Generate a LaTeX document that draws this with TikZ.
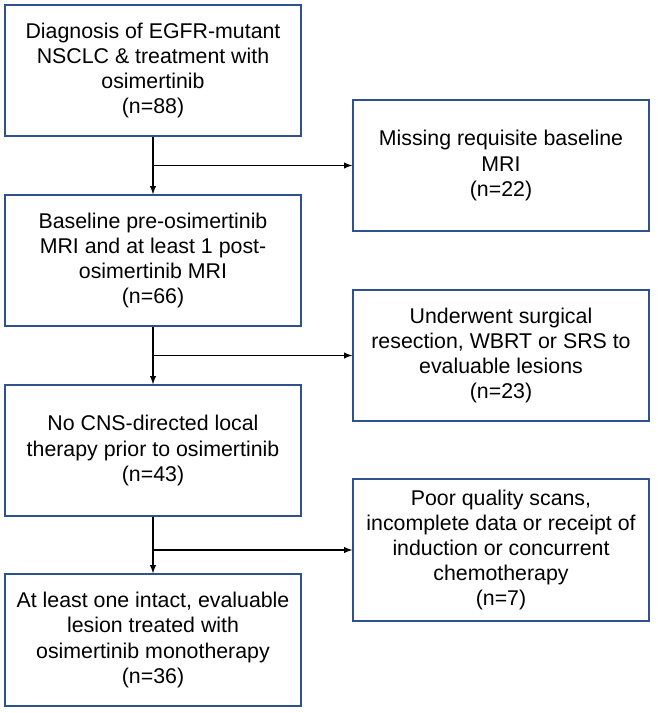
\documentclass[tikz,border=0pt]{standalone}
\usepackage{fontspec}
\setmainfont{Liberation Sans}
\usepackage{tikz}
\usetikzlibrary{shapes.geometric, arrows}
\definecolor{boxblue}{HTML}{2F528F}
\tikzstyle{box} = [draw=boxblue, line width=1.1pt, fill=white, align=center, minimum width=222pt, inner sep=2pt, font=\fontsize{16}{18.8}\selectfont]
\tikzstyle{arrow} = [line width=1.1pt,-latex]
\tikzset{>=latex}

\begin{document}
\begin{tikzpicture}[x=0.75pt, y=-0.75pt]
\useasboundingbox (0,0) rectangle (657,713);
%boxes on the left
\node[box, minimum height=98.25pt] (diag) at (153,70.5) {Diagnosis of EGFR-mutant\\NSCLC \& treatment with\\osimertinib\\(n=88)};
\node[box, minimum height=98.25pt] (mri) at (153,260.5) {Baseline pre-osimertinib\\MRI and at least 1 post-\\osimertinib MRI\\(n=66)};
\node[box, minimum height=98.25pt] (nocns) at (153,450.5) {No CNS-directed local\\therapy prior to osimertinib\\(n=43)};
\node[box, minimum height=99pt] (lesion) at (153,640) {At least one intact, evaluable\\lesion treated with\\osimertinib monotherapy\\(n=36)};
%boxes on the right
\node[box, minimum height=98.25pt] (missing) at (501,165.5) {Missing requisite baseline\\MRI\\(n=22)};
\node[box, minimum height=98.25pt] (surg) at (501,355.5) {Underwent surgical\\resection, WBRT or SRS to\\evaluable lesions\\(n=23)};
\node[box, minimum height=106.5pt] (poor) at (501,550) {Poor quality scans,\\incomplete data or receipt of\\induction or concurrent\\chemotherapy\\(n=7)};
%arrows
\draw[arrow] (diag) -- (mri);
\draw[arrow] (mri) -- (nocns);
\draw[arrow] (nocns) -- (lesion);
\draw[arrow] (diag.south |- missing.west) -- (missing.west);
\draw[arrow] (mri.south |- surg.west) -- (surg.west);
\draw[arrow] (nocns.south |- poor.west) -- (poor.west);
\end{tikzpicture}
\end{document}
